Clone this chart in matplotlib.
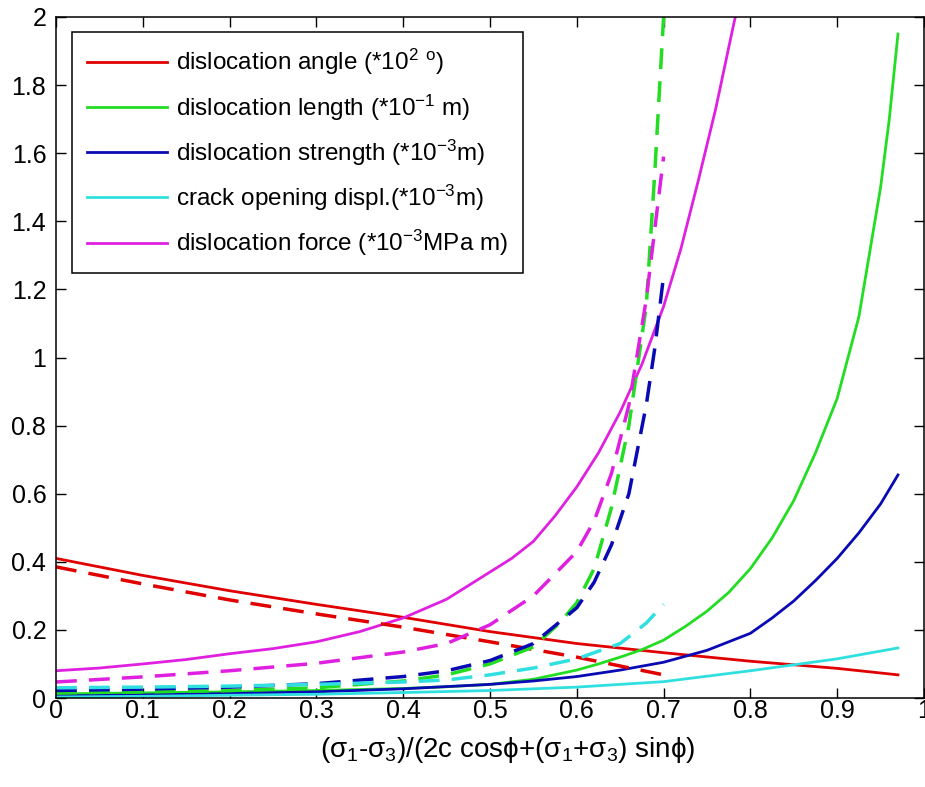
import matplotlib
matplotlib.use("Agg")
import matplotlib.pyplot as plt

plt.rcParams['font.family'] = ['Liberation Sans', 'DejaVu Sans']
plt.rcParams['mathtext.fontset'] = 'custom'
plt.rcParams['mathtext.rm'] = 'Liberation Sans'
plt.rcParams['mathtext.it'] = 'Liberation Sans'
plt.rcParams['mathtext.bf'] = 'Liberation Sans'

# ---- data (solid: full model, dashed: approximation) ----
angle_x = [0, 0.1, 0.2, 0.3, 0.4, 0.5, 0.6, 0.7, 0.8, 0.9, 0.97]
angle_y = [0.41, 0.36, 0.315, 0.275, 0.237, 0.195, 0.16, 0.133, 0.108, 0.087, 0.068]

length_x = [0, 0.1, 0.2, 0.3, 0.4, 0.45, 0.5, 0.55, 0.6, 0.625, 0.65, 0.675, 0.7, 0.725, 0.75,
            0.775, 0.8, 0.825, 0.85, 0.875, 0.9, 0.925, 0.95, 0.96, 0.97]
length_y = [0.012, 0.015, 0.018, 0.022, 0.028, 0.033, 0.04, 0.055, 0.082, 0.1, 0.12, 0.142, 0.17,
            0.21, 0.255, 0.31, 0.38, 0.47, 0.58, 0.72, 0.88, 1.12, 1.5, 1.7, 1.95]

strength_x = [0, 0.1, 0.2, 0.3, 0.4, 0.5, 0.55, 0.6, 0.65, 0.7, 0.75, 0.8, 0.825, 0.85, 0.875,
              0.9, 0.925, 0.95, 0.97]
strength_y = [0.006, 0.009, 0.013, 0.018, 0.027, 0.04, 0.05, 0.063, 0.082, 0.105, 0.14, 0.19, 0.235,
              0.285, 0.345, 0.41, 0.485, 0.57, 0.655]

crack_x = [0, 0.1, 0.2, 0.3, 0.4, 0.5, 0.6, 0.7, 0.8, 0.9, 0.97]
crack_y = [0.003, 0.005, 0.008, 0.011, 0.016, 0.022, 0.032, 0.048, 0.08, 0.115, 0.147]

force_x = [0, 0.05, 0.1, 0.15, 0.2, 0.25, 0.3, 0.35, 0.4, 0.45, 0.5, 0.525, 0.55, 0.575, 0.6,
           0.625, 0.65, 0.675, 0.7, 0.72, 0.74, 0.76, 0.78, 0.8]
force_y = [0.08, 0.088, 0.1, 0.113, 0.13, 0.145, 0.165, 0.195, 0.235, 0.29, 0.37, 0.41, 0.46, 0.535,
           0.62, 0.72, 0.84, 0.98, 1.15, 1.32, 1.52, 1.73, 1.97, 2.2]

angle_d_x = [0, 0.1, 0.2, 0.3, 0.4, 0.5, 0.6, 0.7]
angle_d_y = [0.385, 0.335, 0.288, 0.247, 0.208, 0.165, 0.12, 0.068]

length_d_x = [0, 0.1, 0.2, 0.3, 0.4, 0.45, 0.5, 0.55, 0.58, 0.6, 0.62, 0.64, 0.66, 0.68, 0.69, 0.7, 0.705]
length_d_y = [0.015, 0.018, 0.022, 0.03, 0.05, 0.068, 0.1, 0.15, 0.22, 0.28, 0.38, 0.56, 0.8, 1.15, 1.55, 2.0, 2.3]

strength_d_x = [0, 0.1, 0.2, 0.3, 0.4, 0.45, 0.5, 0.55, 0.6, 0.62, 0.64, 0.66, 0.68, 0.69, 0.7]
strength_d_y = [0.022, 0.026, 0.032, 0.042, 0.063, 0.08, 0.11, 0.16, 0.265, 0.34, 0.45, 0.6, 0.86, 1.03, 1.24]

crack_d_x = [0, 0.1, 0.2, 0.3, 0.4, 0.45, 0.5, 0.55, 0.6, 0.65, 0.68, 0.7]
crack_d_y = [0.03, 0.032, 0.035, 0.04, 0.047, 0.053, 0.068, 0.088, 0.115, 0.16, 0.22, 0.275]

force_d_x = [0, 0.1, 0.2, 0.3, 0.4, 0.45, 0.5, 0.55, 0.6, 0.62, 0.64, 0.66, 0.68, 0.7]
force_d_y = [0.047, 0.062, 0.08, 0.102, 0.135, 0.16, 0.215, 0.3, 0.43, 0.52, 0.66, 0.86, 1.17, 1.59]

labels = ['dislocation angle (*10$^{2}$ $^{o}$)',
          'dislocation length (*10$^{-1}$ m)',
          'dislocation strength (*10$^{-3}$m)',
          'crack opening displ.(*10$^{-3}$m)',
          'dislocation force (*10$^{-3}$MPa m)']
colors = ['#e00000', '#22dd22', '#0a0ab4', '#30e0e0', '#e020e0']

xticks = [0, 0.1, 0.2, 0.3, 0.4, 0.5, 0.6, 0.7, 0.8, 0.9, 1]
xticklabels = ['0', '0.1', '0.2', '0.3', '0.4', '0.5', '0.6', '0.7', '0.8', '0.9', '1']
yticks = [0, 0.2, 0.4, 0.6, 0.8, 1, 1.2, 1.4, 1.6, 1.8, 2]
yticklabels = ['0', '0.2', '0.4', '0.6', '0.8', '1', '1.2', '1.4', '1.6', '1.8', '2']

fig = plt.figure(figsize=(9.25, 7.87), dpi=100)
ax = fig.add_axes([56/925, 1-698/787, (924-56)/925, (698-17)/787])

solid = [(angle_x, angle_y), (length_x, length_y), (strength_x, strength_y),
         (crack_x, crack_y), (force_x, force_y)]
dashed = [(angle_d_x, angle_d_y), (length_d_x, length_d_y), (strength_d_x, strength_d_y),
          (crack_d_x, crack_d_y), (force_d_x, force_d_y)]

handles = []
for (x, y), c, lab in zip(solid, colors, labels):
    h, = ax.plot(x, y, color=c, lw=2.0, label=lab)
    handles.append(h)
for (x, y), c in zip(dashed, colors):
    ax.plot(x, y, color=c, lw=2.5, dashes=(6, 3.5))

ax.set_xlim(0, 1)
ax.set_ylim(0, 2)
ax.set_xticks(xticks)
ax.set_xticklabels(xticklabels)
ax.set_yticks(yticks)
ax.set_yticklabels(yticklabels)
ax.tick_params(direction='in', length=7, width=1, labelsize=18, top=True, right=True,
               labeltop=False, labelright=False)
ax.tick_params(axis='x', pad=1)
ax.tick_params(axis='y', pad=7)
for s in ax.spines.values():
    s.set_linewidth(1.1)

ax.set_xlabel('(σ$_{1}$-σ$_{3}$)/(2c cosϕ+(σ$_{1}$+σ$_{3}$) sinϕ)', fontsize=20)
ax.xaxis.set_label_coords((508-56)/868, (698-735)/681)

leg = ax.legend(handles=handles, loc='upper left', bbox_to_anchor=((72-56)/868, (698-32)/681),
                borderaxespad=0, fontsize=17.5, handlelength=3.3, handletextpad=0.37,
                labelspacing=0.62, borderpad=0.62, fancybox=False, framealpha=1,
                edgecolor='black')
leg.get_frame().set_linewidth(1.1)

fig.savefig('out.png', dpi=100)
